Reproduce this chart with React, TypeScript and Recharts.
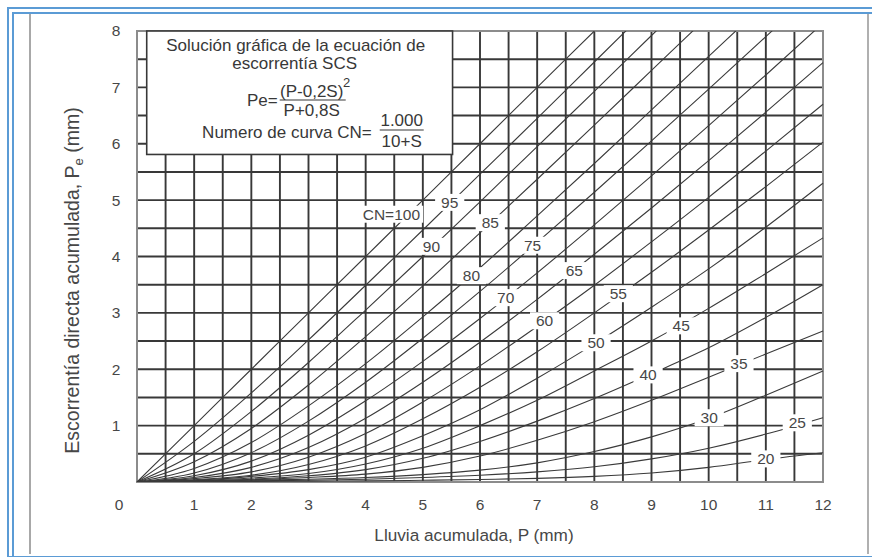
import { CartesianGrid, Label, Line, LineChart, ReferenceArea, ReferenceDot, XAxis, YAxis } from "recharts";

// lluvia acumulada P
const P = [0, 1, 2, 3, 4, 5, 6, 7, 8, 9, 10, 11, 12];

// escorrentía Pe, una lista por número de curva
const CN100 = [0, 1, 2, 3, 4, 5, 6, 7, 8, 9];
const CN95 = [0, 0.72, 1.58, 2.52, 3.49, 4.47, 5.46, 6.45, 7.45, 8.45];
const CN90 = [0, 0.5, 1.25, 2.12, 3.05, 4.0, 4.97, 5.95, 6.93, 7.92, 8.9];
const CN85 = [0, 0.36, 0.95, 1.72, 2.58, 3.48, 4.42, 5.37, 6.33, 7.3, 8.27];
const CN80 = [0, 0.24, 0.7, 1.35, 2.1, 2.93, 3.8, 4.72, 5.65, 6.6, 7.55, 8.5];
const CN75 = [0, 0.16, 0.52, 1.08, 1.77, 2.55, 3.38, 4.25, 5.14, 6.05, 6.97, 7.9, 8.84];
const CN70 = [0, 0.11, 0.37, 0.83, 1.44, 2.14, 2.9, 3.71, 4.56, 5.43, 6.32, 7.22, 8.14];
const CN65 = [0, 0.08, 0.26, 0.61, 1.13, 1.77, 2.48, 3.24, 4.04, 4.86, 5.7, 6.56, 7.44];
const CN60 = [0, 0.06, 0.18, 0.44, 0.86, 1.42, 2.06, 2.76, 3.49, 4.26, 5.05, 5.87, 6.7];
const CN55 = [0, 0.04, 0.12, 0.31, 0.64, 1.12, 1.68, 2.31, 3.0, 3.72, 4.47, 5.24, 6.03];
const CN50 = [0, 0.03, 0.1, 0.22, 0.44, 0.82, 1.28, 1.84, 2.45, 3.1, 3.78, 4.52, 5.3];
const CN45 = [0, 0.025, 0.07, 0.15, 0.32, 0.6, 1.0, 1.45, 1.97, 2.5, 3.08, 3.7, 4.33];
const CN40 = [0, 0.02, 0.05, 0.11, 0.22, 0.42, 0.72, 1.08, 1.48, 1.92, 2.38, 2.92, 3.5];
const CN35 = [0, 0.015, 0.04, 0.08, 0.14, 0.26, 0.46, 0.74, 1.07, 1.45, 1.86, 2.27, 2.68];
const CN30 = [0, 0.01, 0.03, 0.05, 0.08, 0.13, 0.21, 0.34, 0.54, 0.8, 1.13, 1.54, 1.97];
const CN25 = [0, 0.01, 0.02, 0.03, 0.05, 0.08, 0.12, 0.18, 0.27, 0.41, 0.6, 0.85, 1.14];
const CN20 = [0, 0.005, 0.01, 0.015, 0.02, 0.03, 0.045, 0.065, 0.1, 0.16, 0.26, 0.4, 0.52];

const CURVES: [string, number[]][] = [
  ["cn100", CN100], ["cn95", CN95], ["cn90", CN90], ["cn85", CN85], ["cn80", CN80],
  ["cn75", CN75], ["cn70", CN70], ["cn65", CN65], ["cn60", CN60], ["cn55", CN55],
  ["cn50", CN50], ["cn45", CN45], ["cn40", CN40], ["cn35", CN35], ["cn30", CN30],
  ["cn25", CN25], ["cn20", CN20],
];

// rótulos de curva: texto y punto (P, Pe) donde va escrito
const LABEL_TEXT = ["CN=100", "95", "90", "85", "80", "75", "70", "65", "60", "55", "50", "45", "40", "35", "30", "25", "20"];
const LABEL_P = [4.45, 5.47, 5.15, 6.18, 5.85, 6.92, 6.45, 7.65, 7.13, 8.42, 8.03, 9.52, 8.94, 10.53, 10.01, 11.55, 11.0];
const LABEL_PE = [4.75, 4.96, 4.18, 4.6, 3.66, 4.2, 3.27, 3.75, 2.86, 3.34, 2.47, 2.77, 1.9, 2.1, 1.14, 1.05, 0.41];

const X_TICKS = [0, 0.5, 1, 1.5, 2, 2.5, 3, 3.5, 4, 4.5, 5, 5.5, 6, 6.5, 7, 7.5, 8, 8.5, 9, 9.5, 10, 10.5, 11, 11.5, 12];
const Y_TICKS = [0, 0.5, 1, 1.5, 2, 2.5, 3, 3.5, 4, 4.5, 5, 5.5, 6, 6.5, 7, 7.5, 8];

const data = P.map((p, i) => {
  const row: Record<string, number | undefined> = { p };
  CURVES.forEach(([key, vals]) => {
    row[key] = vals[i];
  });
  return row;
});

const FONT = '"Liberation Sans", Arial, sans-serif';
const GRID = "#383838";
const CURVE = "#3a3a3a";
const TEXT = "#474747";

function XTick({ x, y, payload }: any) {
  const v = payload.value;
  if (!Number.isInteger(v)) return null;
  const dx = v === 0 ? -18 : 0;
  return (
    <text x={x + dx} y={y + 21} dy="0.35em" textAnchor="middle" fontSize={15.5} fill={TEXT} fontFamily={FONT}>
      {v}
    </text>
  );
}

function YTick({ x, y, payload }: any) {
  const v = payload.value;
  if (!Number.isInteger(v) || v === 0) return null;
  return (
    <text x={x - 19} y={y} dy="0.35em" textAnchor="middle" fontSize={15.5} fill={TEXT} fontFamily={FONT}>
      {v}
    </text>
  );
}

function CurveLabel({ cx, cy, text }: any) {
  const w = text.length * 8.6 + 12;
  return (
    <g>
      <rect x={cx - w / 2} y={cy - 8.5} width={w} height={17} fill="#fff" />
      <text x={cx} y={cy} dy="0.35em" textAnchor="middle" fontSize={15.5} fill={TEXT} fontFamily={FONT}>
        {text}
      </text>
    </g>
  );
}

function FormulaBox({ x, y, width, height }: any) {
  const t = { fontSize: 17, fill: "#383838", fontFamily: FONT } as const;
  return (
    <g>
      <rect x={x} y={y} width={width} height={height} fill="#fff" stroke={GRID} strokeWidth={1.6} />
      <text x={x + 149} y={y + 14} dy="0.35em" textAnchor="middle" {...t}>
        Solución gráfica de la ecuación de
      </text>
      <text x={x + 148} y={y + 32} dy="0.35em" textAnchor="middle" {...t}>
        escorrentía SCS
      </text>
      <text x={x + 131} y={y + 69} dy="0.35em" textAnchor="end" {...t}>
        Pe=
      </text>
      <text x={x + 165} y={y + 60} dy="0.35em" textAnchor="middle" {...t}>
        (P-0,2S)
      </text>
      <text x={x + 200} y={y + 51} dy="0.35em" textAnchor="middle" {...t} fontSize={13}>
        2
      </text>
      <line x1={x + 133} x2={x + 199} y1={y + 69} y2={y + 69} stroke="#383838" strokeWidth={1.2} />
      <text x={x + 165} y={y + 79} dy="0.35em" textAnchor="middle" {...t}>
        P+0,8S
      </text>
      <text x={x + 225} y={y + 101} dy="0.35em" textAnchor="end" {...t}>
        Numero de curva CN=
      </text>
      <text x={x + 255} y={y + 89} dy="0.35em" textAnchor="middle" {...t}>
        1.000
      </text>
      <line x1={x + 233} x2={x + 277} y1={y + 99} y2={y + 99} stroke="#383838" strokeWidth={1.2} />
      <text x={x + 255} y={y + 110} dy="0.35em" textAnchor="middle" {...t}>
        10+S
      </text>
    </g>
  );
}

function YTitle({ viewBox }: any) {
  const cx = viewBox.x - 15;
  const cy = viewBox.y + viewBox.height / 2 + 24;
  return (
    <text x={cx} y={cy} transform={`rotate(-90 ${cx} ${cy})`} dy="0.35em" textAnchor="middle" fontSize={19.5} fill={TEXT} fontFamily={FONT}>
      Escorrentía directa acumulada, P
      <tspan fontSize={13} dy="4">e</tspan>
      <tspan dy="-4"> (mm)</tspan>
    </text>
  );
}

function XTitle({ viewBox }: any) {
  return (
    <text x={viewBox.x + viewBox.width / 2 - 6} y={viewBox.y + 53} dy="0.35em" textAnchor="middle" fontSize={17.2} fill={TEXT} fontFamily={FONT}>
      Lluvia acumulada, P (mm)
    </text>
  );
}

export default function App() {
  return (
    <div style={{ position: "absolute", left: 0, top: 0, width: 872, height: 557, background: "#fff", overflow: "hidden" }}>
      <div style={{ position: "absolute", left: 7, top: 7, width: 900, height: 547, borderLeft: "2px solid #5b9bd5", borderTop: "2px solid #5b9bd5", borderBottom: "2px solid #5b9bd5" }} />
      <div style={{ position: "absolute", left: 12, top: 12, width: 900, height: 560, borderLeft: "2px solid #5b9bd5", borderTop: "2px solid #5b9bd5" }} />
      <div style={{ position: "absolute", left: 29, top: 14, width: 2, height: 540, background: "#a8a8a8" }} />
      <div style={{ position: "absolute", left: 867, top: 14, width: 2, height: 540, background: "#b0b0b0" }} />
      <div style={{ position: "absolute", left: 0, top: 0 }}>
        <LineChart width={872} height={557} data={data} margin={{ top: 31, right: 49, bottom: 35, left: 87 }}>
          <CartesianGrid stroke={GRID} strokeWidth={1.9} />
          <XAxis
            dataKey="p"
            type="number"
            domain={[0, 12]}
            ticks={X_TICKS}
            interval={0}
            axisLine={false}
            tickLine={false}
            tickSize={0}
            height={40}
            tick={<XTick />}
          >
            <Label content={<XTitle />} />
          </XAxis>
          <YAxis
            type="number"
            domain={[0, 8]}
            ticks={Y_TICKS}
            interval={0}
            allowDataOverflow
            axisLine={false}
            tickLine={false}
            tickSize={0}
            width={50}
            tick={<YTick />}
          >
            <Label content={<YTitle />} />
          </YAxis>
          {CURVES.map(([key]) => (
            <Line
              key={key}
              dataKey={key}
              type="monotone"
              stroke={CURVE}
              strokeWidth={1.1}
              dot={false}
              activeDot={false}
              isAnimationActive={false}
            />
          ))}
          <ReferenceArea x1={0} x2={12} y1={0} y2={8} fill="none" stroke="#8c8c8c" strokeWidth={2} />
          <ReferenceArea x1={0.17} x2={5.52} y1={5.81} y2={8} shape={<FormulaBox />} />
          {LABEL_TEXT.map((text, i) => (
            <ReferenceDot
              key={text}
              x={LABEL_P[i]}
              y={LABEL_PE[i]}
              r={0}
              shape={(props: any) => <CurveLabel {...props} text={text} />}
            />
          ))}
        </LineChart>
      </div>
    </div>
  );
}
